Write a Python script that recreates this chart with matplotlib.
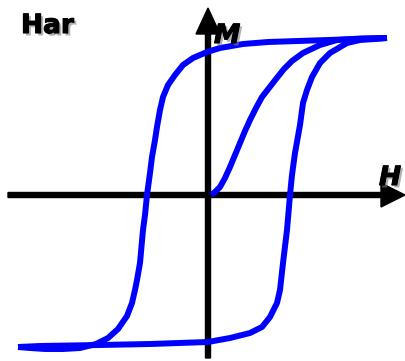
import numpy as np
from matplotlib import pyplot as plt
import matplotlib.patheffects as pe

# hysteresis loop (units: H, M relative to origin)
desc_H = [179, 150, 120, 90, 60, 35, 12, -1, -15, -25, -33, -40, -45, -48, -51, -53, -56, -58,
          -61, -63, -65, -68, -71, -73, -76, -81, -90, -100, -112, -128, -145, -163, -178, -190]
desc_M = [157, 156, 155, 154, 153, 151, 147, 143, 137, 130, 120, 110, 98, 85, 68, 55, 38, 22,
          0, -20, -35, -68, -85, -95, -108, -121, -134, -143, -149, -153, -154, -154, -153, -152]

asc_H = [-190, -168, -138, -108, -58, 0, 22, 42, 54, 62, 69, 72, 75, 79, 82, 84, 87,
         92, 95, 99, 104, 112, 122, 139, 152, 167, 179]
asc_M = [-152, -151, -150.5, -150, -149, -147, -143, -138, -132, -122, -108, -95, -68, -35, 0, 20, 42,
         70, 92, 105, 118, 132, 142, 152, 155, 156, 157]

init_H = [3, 7, 12, 17, 22, 27, 32, 37, 42, 48, 54, 61, 68, 76, 84, 95, 112, 129, 152, 177]
init_M = [0, 3, 8, 17, 28, 40, 52, 64, 75, 87, 98, 107, 116, 126, 134, 142, 150, 155, 156.5, 157]

fig = plt.figure(figsize=(4.06, 3.61), dpi=100)
ax = fig.add_axes([0, 0, 1, 1])
ax.set_xlim(-208, 198)
ax.set_ylim(-166, 195)
ax.axis("off")

# axes with arrow heads
ax.arrow(-200, 0, 397, 0, width=5, head_width=24, head_length=24,
         length_includes_head=True, color="black", zorder=2)
ax.arrow(0, -163, 0, 350, width=5, head_width=24, head_length=26,
         length_includes_head=True, color="black", zorder=2)

blue = (0, 0, 1)
for h, m in [(desc_H, desc_M), (asc_H, asc_M), (init_H, init_M)]:
    ax.plot(h, m, color=blue, lw=4.3, solid_joinstyle="round",
            solid_capstyle="butt", zorder=3)

shadow = [pe.withSimplePatchShadow(offset=(1.8, -1.8), shadow_rgbFace="gray", alpha=0.6),
          pe.Stroke(linewidth=0.8, foreground="black"), pe.Normal()]
ax.text(-187, 162, "Har", fontsize=19, fontweight="bold", va="baseline",
        path_effects=shadow, zorder=4)
ax.text(6, 152, "M", fontsize=19, fontweight="bold", fontstyle="italic",
        va="baseline", path_effects=shadow, zorder=4)
ax.text(171, 10, "H", fontsize=19, fontweight="bold", fontstyle="italic",
        va="baseline", path_effects=shadow, zorder=4)

fig.savefig("out.png", dpi=100)
